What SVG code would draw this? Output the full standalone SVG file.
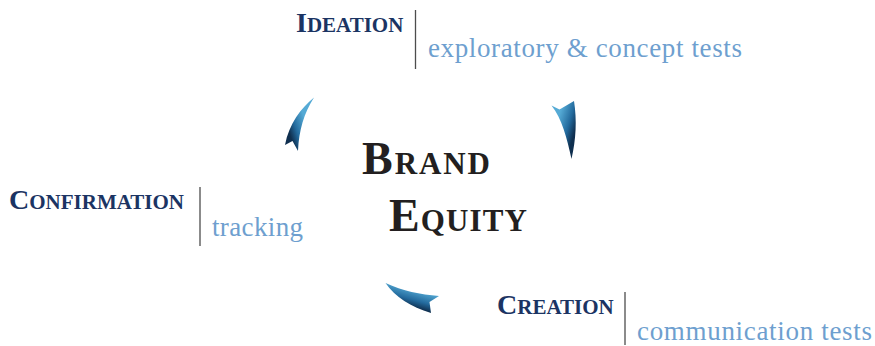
<svg xmlns="http://www.w3.org/2000/svg" width="875" height="346" viewBox="0 0 875 346">
  <style>
    .head { font-family: "Liberation Serif", "DejaVu Serif", serif; font-weight: bold; fill: #1b3463; }
    .cap { font-size: 28px; }
    .sc { font-size: 21px; }
    .sub { font-family: "Liberation Serif", "DejaVu Serif", serif; font-size: 27px; fill: #6e9fcf; }
    .bar { stroke: #4d4d4d; stroke-width: 1.3; }
    .core { font-family: "Liberation Serif", "DejaVu Serif", serif; font-weight: bold; fill: #231f20; }
    .core .big { font-size: 46px; }
    .core .small { font-size: 31px; }
  </style>
  <defs>
    <linearGradient id="gTL" gradientUnits="userSpaceOnUse" x1="289" y1="132" x2="307" y2="126">
      <stop offset="0" stop-color="#0f2f4f"/>
      <stop offset="0.4" stop-color="#236a9d"/>
      <stop offset="1" stop-color="#55aad5"/>
    </linearGradient>
    <linearGradient id="gTR" gradientUnits="userSpaceOnUse" x1="576" y1="128" x2="557" y2="122">
      <stop offset="0" stop-color="#0f2f4f"/>
      <stop offset="0.4" stop-color="#236a9d"/>
      <stop offset="1" stop-color="#55aad5"/>
    </linearGradient>
    <linearGradient id="gB" gradientUnits="userSpaceOnUse" x1="411" y1="307" x2="416" y2="289">
      <stop offset="0" stop-color="#0f2f4f"/>
      <stop offset="0.4" stop-color="#236a9d"/>
      <stop offset="1" stop-color="#55aad5"/>
    </linearGradient>
  </defs>

  <rect width="875" height="346" fill="#ffffff"/>

  <!-- cycle arrows -->
  <g id="connectors">
    <path d="M314,97.5 C301,108 289,124 285,145 L292.5,141 L298,151 C299,130 304,113 314,97.5 Z" fill="url(#gTL)"/>
    <path d="M551.5,105.5 L559.5,109.5 L574,101 C577,120 576,140 571.5,159 C567,138 562,119 551.5,105.5 Z" fill="url(#gTR)"/>
    <path d="M385.5,283 C403,291 420,294.5 439,296 L429.5,302 L431,313 C411,307 395,297 385.5,283 Z" fill="url(#gB)"/>
  </g>

  <g id="brand-equity">
    <text class="core" x="362" y="174" textLength="128" lengthAdjust="spacing"><tspan class="big">B</tspan><tspan class="small">RAND</tspan></text>
    <text class="core" x="389" y="231" textLength="138" lengthAdjust="spacing"><tspan class="big">E</tspan><tspan class="small">QUITY</tspan></text>
  </g>

  <g id="ideation">
    <text class="head" x="296" y="32"><tspan class="cap">I</tspan><tspan class="sc">DEATION</tspan></text>
    <line class="bar" x1="415.5" y1="10" x2="415.5" y2="69"/>
    <text class="sub" x="428" y="57" textLength="314" lengthAdjust="spacing">exploratory &amp; concept tests</text>
  </g>

  <g id="confirmation">
    <text class="head" x="9" y="209"><tspan class="cap">C</tspan><tspan class="sc">ONFIRMATION</tspan></text>
    <line class="bar" x1="200" y1="187" x2="200" y2="246"/>
    <text class="sub" x="212" y="236" textLength="91" lengthAdjust="spacing">tracking</text>
  </g>

  <g id="creation">
    <text class="head" x="497" y="314"><tspan class="cap">C</tspan><tspan class="sc">REATION</tspan></text>
    <line class="bar" x1="625" y1="292" x2="625" y2="345"/>
    <text class="sub" x="637" y="340" textLength="235" lengthAdjust="spacing">communication tests</text>
  </g>
</svg>
